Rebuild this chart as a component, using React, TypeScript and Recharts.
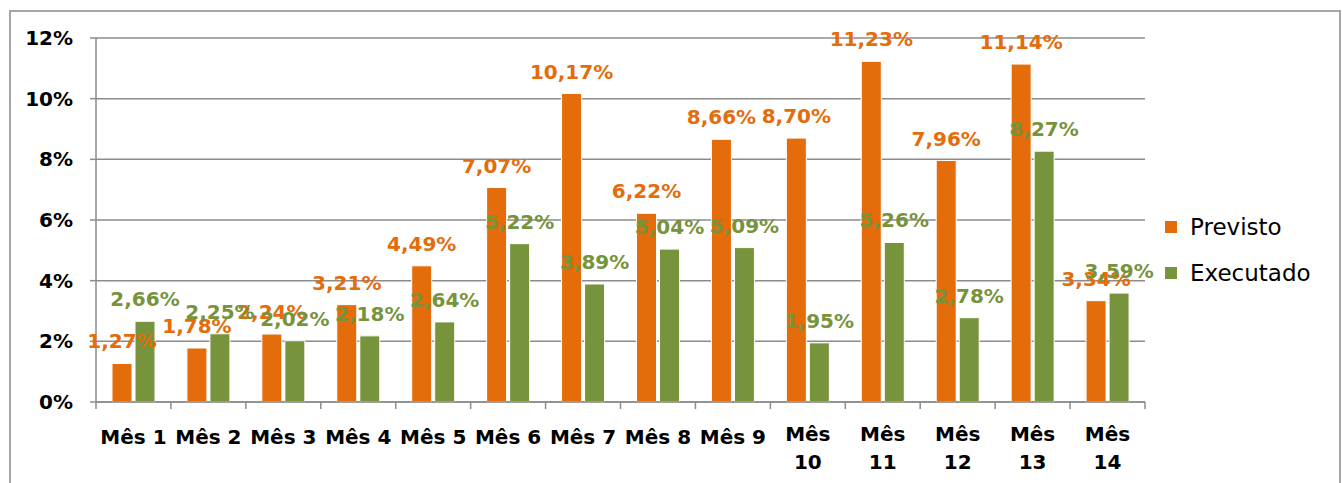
import React from "react";
import {
  BarChart,
  Bar,
  XAxis,
  YAxis,
  CartesianGrid,
  LabelList,
} from "recharts";

const months = [
  "Mês 1", "Mês 2", "Mês 3", "Mês 4", "Mês 5", "Mês 6", "Mês 7",
  "Mês 8", "Mês 9", "Mês 10", "Mês 11", "Mês 12", "Mês 13", "Mês 14",
];
const previsto = [1.27, 1.78, 2.24, 3.21, 4.49, 7.07, 10.17, 6.22, 8.66, 8.7, 11.23, 7.96, 11.14, 3.34];
const executado = [2.66, 2.25, 2.02, 2.18, 2.64, 5.22, 3.89, 5.04, 5.09, 1.95, 5.26, 2.78, 8.27, 3.59];
const yTicks = [0, 2, 4, 6, 8, 10, 12];

const data = months.map((m, i) => ({
  month: m,
  previsto: previsto[i],
  executado: executado[i],
}));

const ORANGE = "#E46C0A";
const GREEN = "#77933C";
const AXIS = "#8c8c8c";
const FONT = "'DejaVu Sans', 'Liberation Sans', Arial, sans-serif";

const W = 1342;
const H = 483;
const PLOT_LEFT = 96;
const PLOT_RIGHT = 1145;
const BAND = (PLOT_RIGHT - PLOT_LEFT) / months.length;

const pct = (v: number) => v.toFixed(2).replace(".", ",") + "%";

function MonthTick(props: any) {
  const { x, y, payload, index } = props;
  const label: string = payload.value;
  const lines = label.length > 5 ? label.split(" ") : [label];
  const left = x - BAND / 2;
  return (
    <g>
      <line x1={left} y1={y} x2={left} y2={y + 7} stroke={AXIS} strokeWidth={1.5} />
      {index === months.length - 1 && (
        <line x1={left + BAND} y1={y} x2={left + BAND} y2={y + 7} stroke={AXIS} strokeWidth={1.5} />
      )}
      {lines.map((t, i) => (
        <text
          key={i}
          x={x}
          y={y + (lines.length > 1 ? 39 + i * 28 : 42)}
          textAnchor="middle"
          fontFamily={FONT}
          fontWeight="bold"
          fontSize={20}
          fill="#000"
        >
          {t}
        </text>
      ))}
    </g>
  );
}

function LegendBox() {
  const items = [
    { name: "Previsto", color: ORANGE },
    { name: "Executado", color: GREEN },
  ];
  return (
    <div style={{ position: "absolute", left: 1165, top: 204, fontFamily: FONT }}>
      {items.map((it) => (
        <div key={it.name} style={{ display: "flex", alignItems: "center", height: 46 }}>
          <span style={{ width: 12, height: 12, background: it.color, marginRight: 13 }} />
          <span style={{ fontSize: 23, color: "#000" }}>{it.name}</span>
        </div>
      ))}
    </div>
  );
}

export default function App() {
  return (
    <div style={{ position: "relative", width: W, height: H, background: "#fff", overflow: "hidden" }}>
      <style>{`body{margin:0}`}</style>
      <div
        style={{
          position: "absolute",
          left: 9,
          top: 10,
          width: 1328,
          height: 500,
          border: "2px solid #a6a6a6",
        }}
      />
      <div style={{ position: "absolute", left: 0, top: 0 }}>
        <BarChart
          width={W}
          height={H}
          data={data}
          margin={{ top: 38, right: W - PLOT_RIGHT, left: 0, bottom: 0 }}
          barCategoryGap={16}
          barGap={3}
        >
          <CartesianGrid vertical={false} stroke={AXIS} strokeWidth={1.5} />
          <XAxis
            dataKey="month"
            height={81}
            axisLine={{ stroke: AXIS, strokeWidth: 1.5 }}
            tickLine={false}
            tickSize={0}
            tickMargin={0}
            interval={0}
            tick={<MonthTick />}
          />
          <YAxis
            width={PLOT_LEFT}
            domain={[0, 12]}
            ticks={yTicks}
            tickFormatter={(v: number) => `${v}%`}
            axisLine={{ stroke: AXIS, strokeWidth: 1.5 }}
            tickLine={{ stroke: AXIS, strokeWidth: 1.5 }}
            tickSize={6}
            tickMargin={17}
            tick={{ fontFamily: FONT, fontWeight: "bold", fontSize: 20, fill: "#000" }}
          />
          <Bar
            dataKey="previsto"
            name="Previsto"
            fill={ORANGE}
            stroke="#fff"
            strokeWidth={1}
            isAnimationActive={false}
          >
            <LabelList
              dataKey="previsto"
              position="top"
              offset={15}
              formatter={(v: any) => pct(Number(v))}
              fill={ORANGE}
              fontFamily={FONT}
              fontWeight="bold"
              fontSize={20}
            />
          </Bar>
          <Bar
            dataKey="executado"
            name="Executado"
            fill={GREEN}
            stroke="#fff"
            strokeWidth={1}
            isAnimationActive={false}
          >
            <LabelList
              dataKey="executado"
              position="top"
              offset={15}
              formatter={(v: any) => pct(Number(v))}
              fill={GREEN}
              fontFamily={FONT}
              fontWeight="bold"
              fontSize={20}
            />
          </Bar>
        </BarChart>
      </div>
      <LegendBox />
    </div>
  );
}
